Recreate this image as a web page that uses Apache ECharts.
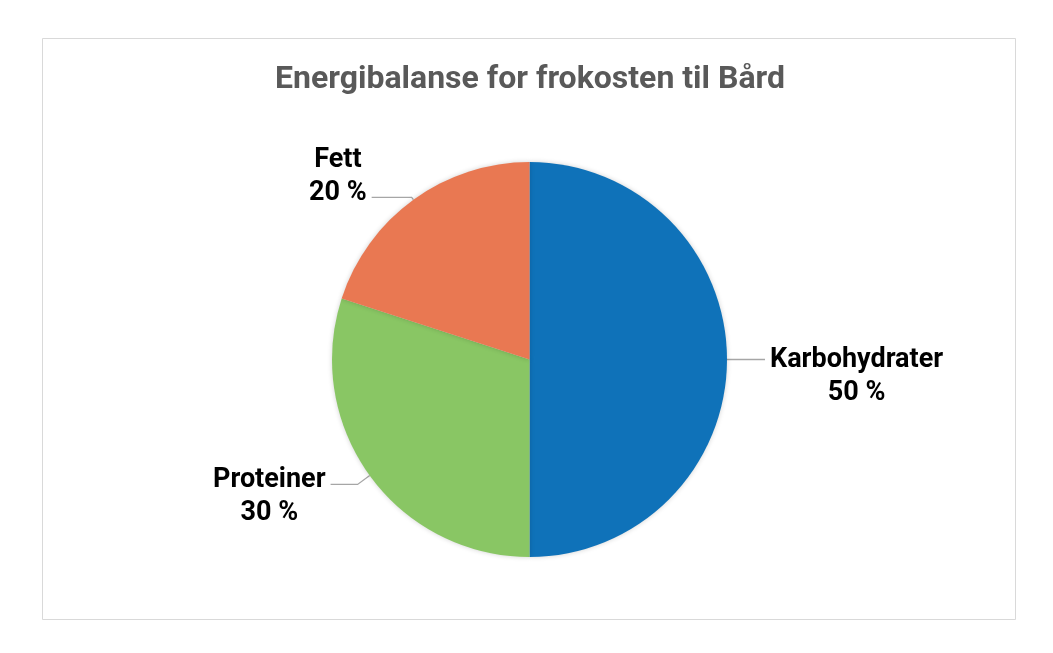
<!DOCTYPE html>
<html>
<head>
<meta charset="utf-8">
<script src="https://cdn.jsdelivr.net/npm/echarts@6/dist/echarts.min.js"></script>
<style>
html,body{margin:0;padding:0;background:#fff;}
#c{width:1053px;height:653px;}
</style>
</head>
<body>
<div id="c"></div>
<script>
var titleText = 'Energibalanse for frokosten til Bård';
var categories = ['Karbohydrater', 'Proteiner', 'Fett'];
var values = [50, 30, 20];

var colors = ['#0F72B9', '#89C664', '#E97852'];
var labelTweaks = {
  'Karbohydrater': { length: 8, length2: 30, padding: [35, 0, 0, 0] },
  'Proteiner': { length: 15, length2: 27, padding: [25, 0, 0, 0] },
  'Fett': { length: 3, length2: 40, padding: [0, 0, 42, 0] }
};

var chart = echarts.init(document.getElementById('c'), null, { renderer: 'canvas' });

var pieData = categories.map(function (name, i) {
  var t = labelTweaks[name];
  return {
    name: name,
    value: values[i],
    itemStyle: { color: colors[i] },
    label: { padding: t.padding },
    labelLine: { length: t.length, length2: t.length2 }
  };
});

chart.setOption({
  backgroundColor: '#ffffff',
  animation: false,
  graphic: [{
    type: 'rect',
    shape: { x: 42.5, y: 38.5, width: 973, height: 581 },
    style: { fill: 'none', stroke: '#D9D9D9', lineWidth: 1 },
    z: -1
  }],
  title: {
    text: titleText,
    left: 525,
    top: 59,
    textAlign: 'center',
    textStyle: {
      fontFamily: 'Roboto',
      fontWeight: 'bold',
      fontSize: 32,
      color: '#595959'
    }
  },
  series: [{
    type: 'pie',
    center: [529.5, 359.5],
    radius: 197.5,
    startAngle: 90,
    clockwise: true,
    avoidLabelOverlap: false,
    itemStyle: {
      borderWidth: 0,
      shadowBlur: 5,
      shadowColor: 'rgba(0,0,0,0.18)'
    },
    emphasis: { disabled: true },
    label: {
      show: true,
      position: 'outside',
      formatter: function (p) { return '{n|' + p.name + '}\n{n|' + p.value + ' %}'; },
      distanceToLabelLine: 5,
      rich: {
        n: {
          fontFamily: 'Roboto',
          fontWeight: 'bold',
          fontSize: 27,
          lineHeight: 33,
          color: '#000000',
          align: 'center'
        }
      }
    },
    labelLine: {
      show: true,
      smooth: false,
      lineStyle: { color: '#A6A6A6', width: 1.3 }
    },
    data: pieData
  }]
});
</script>
</body>
</html>
